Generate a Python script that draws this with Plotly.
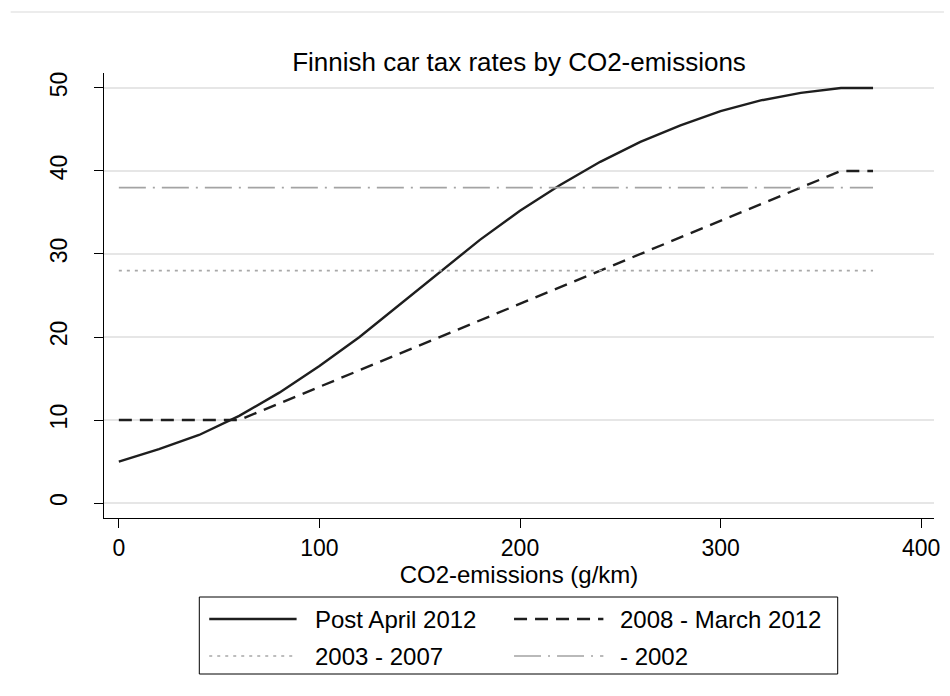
import plotly.graph_objects as go

# Tax rate (% of taxable value) against CO2 emissions (g/km), per tax regime
co2_post2012 = [0, 20, 40, 60, 80, 100, 120, 140, 160, 180, 200, 220, 240, 260,
                280, 300, 320, 340, 360, 376]
rate_post2012 = [5.0, 6.5, 8.2, 10.5, 13.3, 16.5, 20.0, 23.9, 27.9, 31.7, 35.2,
                 38.3, 41.1, 43.5, 45.5, 47.2, 48.5, 49.4, 50.0, 50.0]

co2_2008 = [0, 60, 360, 376]
rate_2008 = [10, 10, 40, 40]

co2_2003 = [0, 376]
rate_2003 = [28, 28]

co2_2002 = [0, 376]
rate_2002 = [38, 38]

series_names = ["Post April 2012", "2008 - March 2012", "2003 - 2007", "- 2002"]
x_ticks = [0, 100, 200, 300, 400]
y_ticks = [0, 10, 20, 30, 40, 50]

W, H = 950, 696
L, R, T, B = 104, 940, 73, 518          # plot-area edges in pixels
FONT = "Liberation Sans, Arial, sans-serif"

styles = [
    dict(color="#1e1e1e", width=2.4, dash="solid"),
    dict(color="#1e1e1e", width=2.4, dash="13px,8px"),
    dict(color="#a8a8a8", width=1.7, dash="3px,5px"),
    dict(color="#a3a3a3", width=1.7, dash="27px,7px,2px,7px"),
]
data = [(co2_post2012, rate_post2012), (co2_2008, rate_2008),
        (co2_2003, rate_2003), (co2_2002, rate_2002)]


def px_x(p):
    return (p - L) / (R - L)


def px_y(p):
    return (B - p) / (B - T)


fig = go.Figure()
for (xs, ys), name, st in zip(data, series_names, styles):
    fig.add_trace(go.Scatter(
        x=xs, y=ys, name=name, mode="lines",
        line=dict(color=st["color"], width=st["width"], dash=st["dash"]),
        showlegend=False, hoverinfo="skip"))

shapes = []
annotations = []

# thin rule across the top of the page
shapes.append(dict(type="line", xref="paper", yref="paper",
                   x0=px_x(10), x1=px_x(950), y0=px_y(12), y1=px_y(12),
                   line=dict(color="#e6e6e6", width=1.5)))

# legend box with two columns of keys
shapes.append(dict(type="rect", xref="paper", yref="paper",
                   x0=px_x(200), x1=px_x(843), y0=px_y(597), y1=px_y(674),
                   line=dict(color="#000000", width=1), fillcolor="white"))
key_pos = [(210, 298, 315, 619), (517, 607, 622, 619),
           (210, 298, 315, 656), (517, 607, 622, 656)]
for (k0, k1, tx, ty), name, st in zip(key_pos, series_names, styles):
    shapes.append(dict(type="line", xref="paper", yref="paper",
                       x0=px_x(k0), x1=px_x(k1), y0=px_y(ty), y1=px_y(ty),
                       line=dict(color=st["color"], width=st["width"],
                                 dash=st["dash"])))
    annotations.append(dict(text=name, xref="paper", yref="paper",
                            x=px_x(tx), y=px_y(ty), xanchor="left",
                            yanchor="middle", showarrow=False,
                            font=dict(family=FONT, size=24, color="black")))

fig.update_layout(
    width=W, height=H,
    margin=dict(l=L, r=W - R, t=T, b=H - B),
    paper_bgcolor="white", plot_bgcolor="white",
    font=dict(family=FONT, color="black"),
    title=dict(text="Finnish car tax rates by CO2-emissions",
               x=0.5, xref="paper", xanchor="center",
               y=1 - 62 / H, yref="container", yanchor="middle",
               font=dict(family=FONT, size=26, color="black")),
    xaxis=dict(range=[-7.4, 406.4], tickvals=x_ticks,
               ticks="outside", ticklen=9, tickwidth=1, tickcolor="black",
               showline=True, linecolor="black", linewidth=1,
               showgrid=False, zeroline=False,
               tickfont=dict(family=FONT, size=23, color="black"),
               title=dict(text="CO2-emissions (g/km)", standoff=2,
                          font=dict(family=FONT, size=24, color="black"))),
    yaxis=dict(range=[-1.8, 51.8], tickvals=y_ticks, tickangle=-90,
               ticks="outside", ticklen=9, tickwidth=1, tickcolor="black",
               showline=True, linecolor="black", linewidth=1,
               showgrid=True, gridcolor="#e6e6e6", gridwidth=1.5,
               zeroline=False, ticklabelstandoff=18,
               tickfont=dict(family=FONT, size=23, color="black")),
    shapes=shapes,
    annotations=annotations,
)

fig.write_html("out.html")
